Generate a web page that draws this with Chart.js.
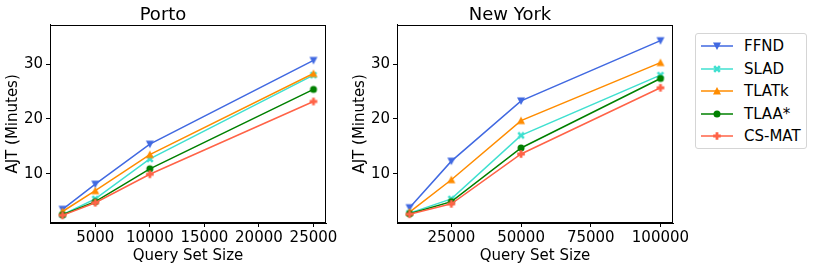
<!DOCTYPE html>
<html>
<head>
<meta charset="utf-8">
<script src="https://cdn.jsdelivr.net/npm/chart.js@4.4.0/dist/chart.umd.min.js"></script>
<style>
  body { margin: 0; background: #fff; width: 813px; height: 269px; overflow: hidden; font-family: "DejaVu Sans", sans-serif; }
  canvas.plot { position: absolute; top: 0; }
  #legend { position: absolute; left: 695px; top: 33px; width: 110px; height: 114px; border: 1px solid #d5d5d5; border-radius: 3px; }
  .row { position: absolute; left: 0; height: 22px; width: 110px; }
  .row canvas { position: absolute; left: 4px; top: 4px; }
  .row span { position: absolute; left: 48px; top: 1px; font-size: 15px; line-height: 20px; color: #000; }
</style>
</head>
<body>
<canvas id="porto" class="plot" width="345" height="269" style="left:0px"></canvas>
<canvas id="ny" class="plot" width="345" height="269" style="left:347px"></canvas>
<div id="legend"></div>
<script>
// methods + styles
const methods = ['FFND', 'SLAD', 'TLATk', 'TLAA*', 'CS-MAT'];
const colors = ['#4169e1', '#40e0d0', '#ff8c00', '#008000', '#ff6347'];
const markers = ['v', 'X', '^', 'o', 'P'];

// Porto data
const portoSizes = [2000, 5000, 10000, 25000];
const portoFFND = [3.5, 8.1, 15.4, 30.7];
const portoSLAD = [2.5, 5.4, 12.7, 28.0];
const portoTLATk = [3.1, 6.9, 13.5, 28.3];
const portoTLAA = [2.5, 4.9, 10.9, 25.4];
const portoCSMAT = [2.4, 4.7, 9.9, 23.2];

// New York data
const nySizes = [10000, 25000, 50000, 100000];
const nyFFND = [3.8, 12.3, 23.3, 34.3];
const nySLAD = [2.8, 5.4, 17.0, 28.0];
const nyTLATk = [3.0, 8.9, 19.7, 30.3];
const nyTLAA = [2.7, 4.9, 14.7, 27.4];
const nyCSMAT = [2.6, 4.5, 13.6, 25.7];

// tick labels
const portoTicks = [5000, 10000, 15000, 20000, 25000];
const nyTicks = [25000, 50000, 75000, 100000];
const yTicks = [10, 20, 30];

Chart.defaults.font.family = 'DejaVu Sans';
Chart.defaults.color = '#000';

// draw a matplotlib-ish marker
function drawMarker(ctx, type, x, y, color) {
  ctx.fillStyle = color;
  ctx.beginPath();
  if (type === 'v') {
    ctx.moveTo(x - 4, y - 3.5); ctx.lineTo(x + 4, y - 3.5); ctx.lineTo(x, y + 4);
  } else if (type === '^') {
    ctx.moveTo(x - 4, y + 3.5); ctx.lineTo(x + 4, y + 3.5); ctx.lineTo(x, y - 4);
  } else if (type === 'o') {
    ctx.arc(x, y, 3.5, 0, Math.PI * 2);
  } else if (type === 'P') {
    const a = 1.4, b = 3.8;
    ctx.moveTo(x - a, y - b); ctx.lineTo(x + a, y - b); ctx.lineTo(x + a, y - a);
    ctx.lineTo(x + b, y - a); ctx.lineTo(x + b, y + a); ctx.lineTo(x + a, y + a);
    ctx.lineTo(x + a, y + b); ctx.lineTo(x - a, y + b); ctx.lineTo(x - a, y + a);
    ctx.lineTo(x - b, y + a); ctx.lineTo(x - b, y - a); ctx.lineTo(x - a, y - a);
  } else if (type === 'X') {
    ctx.save(); ctx.translate(x, y); ctx.rotate(Math.PI / 4);
    const a = 1.3, b = 4;
    ctx.moveTo(-a, -b); ctx.lineTo(a, -b); ctx.lineTo(a, -a);
    ctx.lineTo(b, -a); ctx.lineTo(b, a); ctx.lineTo(a, a);
    ctx.lineTo(a, b); ctx.lineTo(-a, b); ctx.lineTo(-a, a);
    ctx.lineTo(-b, a); ctx.lineTo(-b, -a); ctx.lineTo(-a, -a);
    ctx.restore();
  }
  ctx.closePath();
  ctx.fill();
}

function markerImage(type, color) {
  const c = document.createElement('canvas');
  c.width = 12; c.height = 12;
  drawMarker(c.getContext('2d'), type, 6, 6, color);
  return c;
}

// box round the plot area
const frame = {
  id: 'frame',
  afterDraw(chart) {
    const a = chart.chartArea, c = chart.ctx;
    c.save();
    c.strokeStyle = '#000';
    c.lineWidth = 1;
    c.strokeRect(Math.round(a.left) + 0.5, Math.round(a.top) + 0.5,
      Math.round(a.right - a.left) - 1, Math.round(a.bottom - a.top) - 1);
    c.restore();
  }
};

function makeChart(id, title, sizes, series, xTicks, xMin, xMax) {
  const datasets = series.map((vals, i) => ({
    label: methods[i],
    data: sizes.map((s, j) => ({ x: s, y: vals[j] })),
    borderColor: colors[i],
    backgroundColor: colors[i],
    borderWidth: 1.5,
    pointStyle: markerImage(markers[i], colors[i]),
    order: 4 - i
  }));
  return new Chart(document.getElementById(id).getContext('2d'), {
    type: 'line',
    data: { datasets: datasets },
    options: {
      responsive: false,
      animation: false,
      layout: { padding: { left: 0, right: 19, top: 0, bottom: 0 } },
      plugins: {
        legend: { display: false },
        tooltip: { enabled: false },
        title: {
          display: true, text: title, color: '#000',
          font: { size: 18, weight: 'normal', lineHeight: 1.1 },
          padding: { top: 5, bottom: 0 }
        }
      },
      scales: {
        x: {
          type: 'linear', min: xMin, max: xMax,
          afterBuildTicks: s => { s.ticks = xTicks.map(v => ({ value: v })); },
          afterFit: s => { s.height = 46; s.paddingLeft = 0; s.paddingRight = 0; },
          ticks: { font: { size: 15 }, color: '#000', padding: 2, maxRotation: 0, autoSkip: false, callback: v => String(v) },
          grid: { drawOnChartArea: false, drawTicks: true, tickLength: 4, color: '#000' },
          border: { display: true, color: '#000' },
          title: { display: true, text: 'Query Set Size', font: { size: 15 }, color: '#000', padding: { top: 0, bottom: 4 } }
        },
        y: {
          type: 'linear', min: 1.0, max: 37.2,
          afterBuildTicks: s => { s.ticks = yTicks.map(v => ({ value: v })); },
          afterFit: s => { s.width = 50; },
          ticks: { font: { size: 15 }, color: '#000', padding: 3, callback: v => String(v) },
          grid: { drawOnChartArea: false, drawTicks: true, tickLength: 4, color: '#000' },
          border: { display: true, color: '#000' },
          title: { display: true, text: 'AJT (Minutes)', font: { size: 15 }, color: '#000', padding: { top: 4, bottom: 0 } }
        }
      }
    },
    plugins: [frame]
  });
}

makeChart('porto', 'Porto', portoSizes,
  [portoFFND, portoSLAD, portoTLATk, portoTLAA, portoCSMAT], portoTicks, 850, 26150);
makeChart('ny', 'New York', nySizes,
  [nyFFND, nySLAD, nyTLATk, nyTLAA, nyCSMAT], nyTicks, 5500, 104500);

// legend
const legend = document.getElementById('legend');
methods.forEach((m, i) => {
  const row = document.createElement('div');
  row.className = 'row';
  row.style.top = (1 + i * 22.5) + 'px';
  const c = document.createElement('canvas');
  c.width = 34; c.height = 14;
  const ctx = c.getContext('2d');
  ctx.strokeStyle = colors[i];
  ctx.lineWidth = 1.5;
  ctx.beginPath(); ctx.moveTo(1, 7); ctx.lineTo(33, 7); ctx.stroke();
  drawMarker(ctx, markers[i], 17, 7, colors[i]);
  const t = document.createElement('span');
  t.textContent = m;
  row.appendChild(c);
  row.appendChild(t);
  legend.appendChild(row);
});
</script>
</body>
</html>
